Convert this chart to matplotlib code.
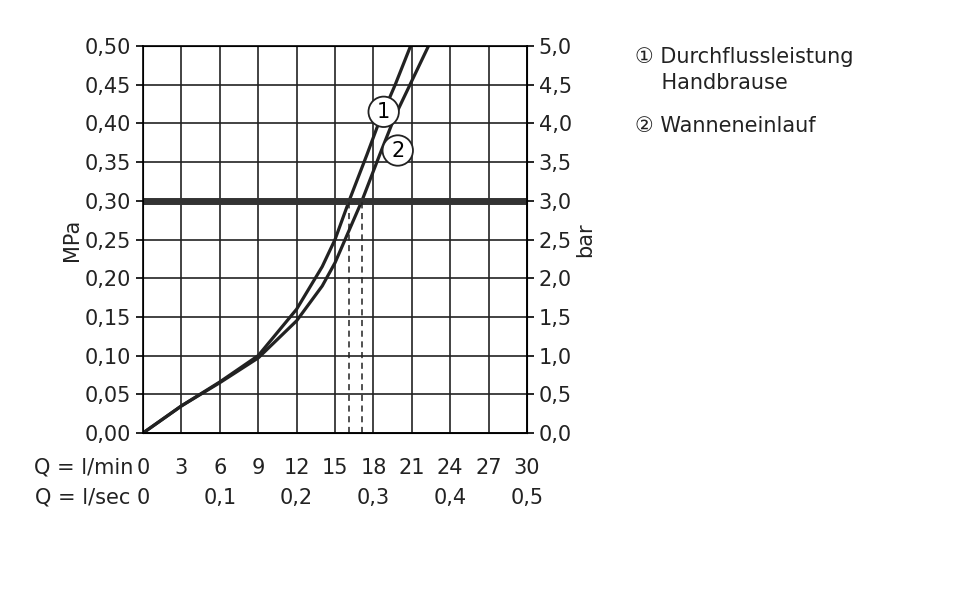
import matplotlib
matplotlib.use("Agg")
import matplotlib.pyplot as plt
import matplotlib.transforms as mtransforms

flow1 = [0, 3, 6, 9, 12, 14, 15, 16.1, 17.5, 18.4, 19.7, 20.9]
press1 = [0, 0.035, 0.066, 0.10, 0.16, 0.215, 0.25, 0.30, 0.36, 0.40, 0.45, 0.50]
flow2 = [0, 3, 6, 9, 12, 14, 15, 17.1, 18.5, 19.7, 21.0, 22.3]
press2 = [0, 0.035, 0.065, 0.097, 0.145, 0.19, 0.22, 0.30, 0.36, 0.41, 0.455, 0.50]
lmin_ticks = [0, 3, 6, 9, 12, 15, 18, 21, 24, 27, 30]
lsec_pos = [0, 6, 12, 18, 24, 30]
lsec_labels = ["0", "0,1", "0,2", "0,3", "0,4", "0,5"]
mpa_ticks = [0, 0.05, 0.10, 0.15, 0.20, 0.25, 0.30, 0.35, 0.40, 0.45, 0.50]
ref_pressure = 0.30
legend_items = ["\u2460 Durchflussleistung\n    Handbrause", "\u2461 Wanneneinlauf"]

plt.rcParams['font.family'] = ['DejaVu Sans', 'Noto Sans CJK SC']
fig = plt.figure(figsize=(9.6, 6.12), dpi=100)
ax = fig.add_axes([0.149, 0.2925, 0.4, 0.6323])
ax.set_xlim(0, 30)
ax.set_ylim(0, 0.5)
ax.set_xticks(lmin_ticks)
ax.set_yticks(mpa_ticks)
ax.grid(True, color='#222', lw=1.2)
ax.set_xticklabels([])
ax.set_yticklabels([f"{v:.2f}".replace('.', ',') for v in mpa_ticks], fontsize=15, color='#222')
ax.tick_params(axis='y', length=5, width=1.2, direction='out')
ax.tick_params(axis='x', length=0)
for s in ax.spines.values():
    s.set_linewidth(1.2)

ax.plot(flow1, press1, color='#222', lw=2.3)
ax.plot(flow2, press2, color='#222', lw=2.3)
ax.axhline(ref_pressure, color='#333', lw=5)
ax.plot([flow1[7]] * 2, [0, ref_pressure], color='#222', lw=1.1, ls=(0, (4, 3)))
ax.plot([flow2[7]] * 2, [0, ref_pressure], color='#222', lw=1.1, ls=(0, (4, 3)))
ax.text(18.8, 0.415, "1", fontsize=15, ha='center', va='center',
        bbox=dict(boxstyle='circle,pad=0.25', fc='white', ec='#222', lw=1.3))
ax.text(19.9, 0.365, "2", fontsize=15, ha='center', va='center',
        bbox=dict(boxstyle='circle,pad=0.25', fc='white', ec='#222', lw=1.3))
ax.set_ylabel("MPa", fontsize=15, color='#222', labelpad=2)

ax2 = ax.twinx()
ax2.set_ylim(0, 5)
ax2.set_yticks([v * 10 for v in mpa_ticks])
ax2.set_yticklabels([f"{v*10:.1f}".replace('.', ',') for v in mpa_ticks], fontsize=15, color='#222')
ax2.tick_params(axis='y', length=5, width=1.2, direction='out')
ax2.set_ylabel("bar", fontsize=15, color='#222', labelpad=2)

tr = mtransforms.blended_transform_factory(ax.transData, fig.transFigure)
for v in lmin_ticks:
    ax.text(v, 1 - 468 / 612, str(v), transform=tr, ha='center', va='center', fontsize=15, color='#222')
for v, l in zip(lsec_pos, lsec_labels):
    ax.text(v, 1 - 498 / 612, l, transform=tr, ha='center', va='center', fontsize=15, color='#222')
fig.text(133 / 960, 1 - 468 / 612, "Q = l/min", ha='right', va='center', fontsize=15, color='#222')
fig.text(130 / 960, 1 - 498 / 612, "Q = l/sec", ha='right', va='center', fontsize=15, color='#222')

fig.text(635 / 960, 1 - 70 / 612, legend_items[0], ha='left', va='center', fontsize=15, color='#222', linespacing=1.4)
fig.text(635 / 960, 1 - 126 / 612, legend_items[1], ha='left', va='center', fontsize=15, color='#222')

fig.savefig("out.png", dpi=100, facecolor='white')
